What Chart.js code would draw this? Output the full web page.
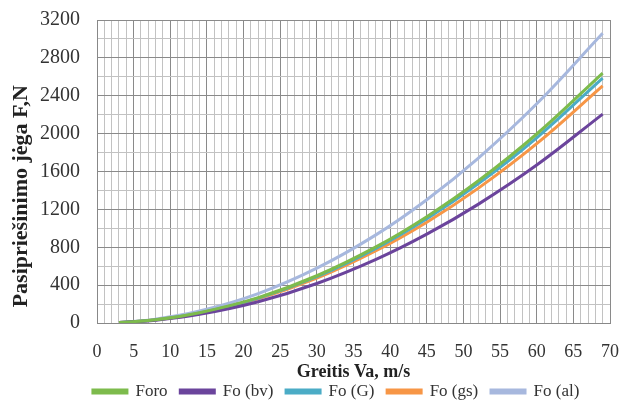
<!DOCTYPE html>
<html>
<head>
<meta charset="utf-8">
<script src="https://cdn.jsdelivr.net/npm/chart.js@4"></script>
<style>
  html, body { margin: 0; padding: 0; background: #fff; }
  #wrap { width: 637px; height: 410px; position: relative; }
</style>
</head>
<body>
<div id="wrap"><canvas id="chart"></canvas></div>
<script>
// speeds (m/s)
const speeds = [3, 8, 14, 22, 30, 38, 45, 52, 60, 69];

// resistance force per variant (N)
const foro = [5, 35, 109, 268, 499, 801, 1123, 1499, 1996, 2640];
const foBv = [4, 30, 91, 224, 417, 669, 938, 1253, 1668, 2206];
const foG  = [5, 35, 106, 263, 489, 785, 1100, 1469, 1956, 2587];
const foGs = [5, 34, 103, 255, 473, 760, 1065, 1422, 1894, 2505];
const foAl = [6, 41, 126, 311, 579, 928, 1302, 1739, 2315, 3060];

const seriesNames = ['Foro', 'Fo (bv)', 'Fo (G)', 'Fo (gs)', 'Fo (al)'];
const seriesColors = ['#7dbb4c', '#6b449c', '#4bacc6', '#f79646', '#a7b8de'];
const seriesValues = [foro, foBv, foG, foGs, foAl];

const serif = '"Liberation Serif", "Times New Roman", serif';
Chart.defaults.font.family = serif;

function toPoints(vals) {
  return speeds.map((v, i) => ({ x: v, y: vals[i] }));
}

const datasets = seriesNames.map((name, i) => ({
  label: name,
  data: toPoints(seriesValues[i]),
  borderColor: seriesColors[i],
  backgroundColor: seriesColors[i],
  borderWidth: 3,
  pointRadius: 0,
  tension: 0.4,
  fill: false
}));

// nudge the legend to the right, like in the original figure
const legendShift = {
  id: 'legendShift',
  afterLayout(chart) {
    chart.legend.left += 30;
    chart.legend.right += 30;
  }
};

new Chart(document.getElementById('chart').getContext('2d'), {
  type: 'line',
  data: { datasets: datasets },
  plugins: [legendShift],
  options: {
    responsive: true,
    maintainAspectRatio: false,
    animation: false,
    layout: { padding: { left: 0, right: 12, top: 20, bottom: 0 } },
    plugins: {
      tooltip: { enabled: false },
      legend: {
        position: 'bottom',
        labels: {
          boxWidth: 34,
          boxHeight: 3,
          padding: 0,
          color: '#333',
          font: { family: serif, size: 17 },
          generateLabels: chart =>
            Chart.defaults.plugins.legend.labels.generateLabels(chart)
              .map(l => Object.assign(l, { text: l.text + '   ' }))
        }
      }
    },
    scales: {
      x: {
        type: 'linear',
        min: 0,
        max: 70,
        afterFit: function(scale) { scale.height = 60; },
        border: { display: true, color: '#888' },
        grid: {
          drawTicks: false,
          color: ctx => (ctx.tick && ctx.tick.value % 5 === 0) ? '#8a8a8a' : '#c2c2c2'
        },
        ticks: {
          stepSize: 1,
          autoSkip: false,
          maxRotation: 0,
          padding: 18,
          color: '#333',
          font: { family: serif, size: 18 },
          callback: v => (v % 5 === 0 ? v : '')
        },
        title: {
          display: true,
          text: 'Greitis Va, m/s',
          color: '#222',
          padding: { top: 0, bottom: 0 },
          font: { family: serif, size: 18, weight: 'bold' }
        }
      },
      y: {
        min: 0,
        max: 3200,
        afterFit: function(scale) {
          scale.width = 97;
          scale.paddingTop = 0;
        },
        border: { display: true, color: '#888' },
        grid: {
          drawTicks: false,
          color: ctx => (ctx.tick && ctx.tick.value % 400 === 0) ? '#8a8a8a' : '#c2c2c2'
        },
        ticks: {
          stepSize: 200,
          autoSkip: false,
          padding: 17,
          color: '#333',
          font: { family: serif, size: 20 },
          callback: v => (v % 400 === 0 ? v : '')
        },
        title: {
          display: true,
          text: 'Pasipriešinimo jėga F,N\u00a0\u00a0\u00a0\u00a0\u00a0\u00a0\u00a0\u00a0\u00a0',
          color: '#222',
          padding: { top: 8, bottom: 0 },
          font: { family: serif, size: 22, weight: 'bold' }
        }
      }
    }
  }
});
</script>
</body>
</html>
